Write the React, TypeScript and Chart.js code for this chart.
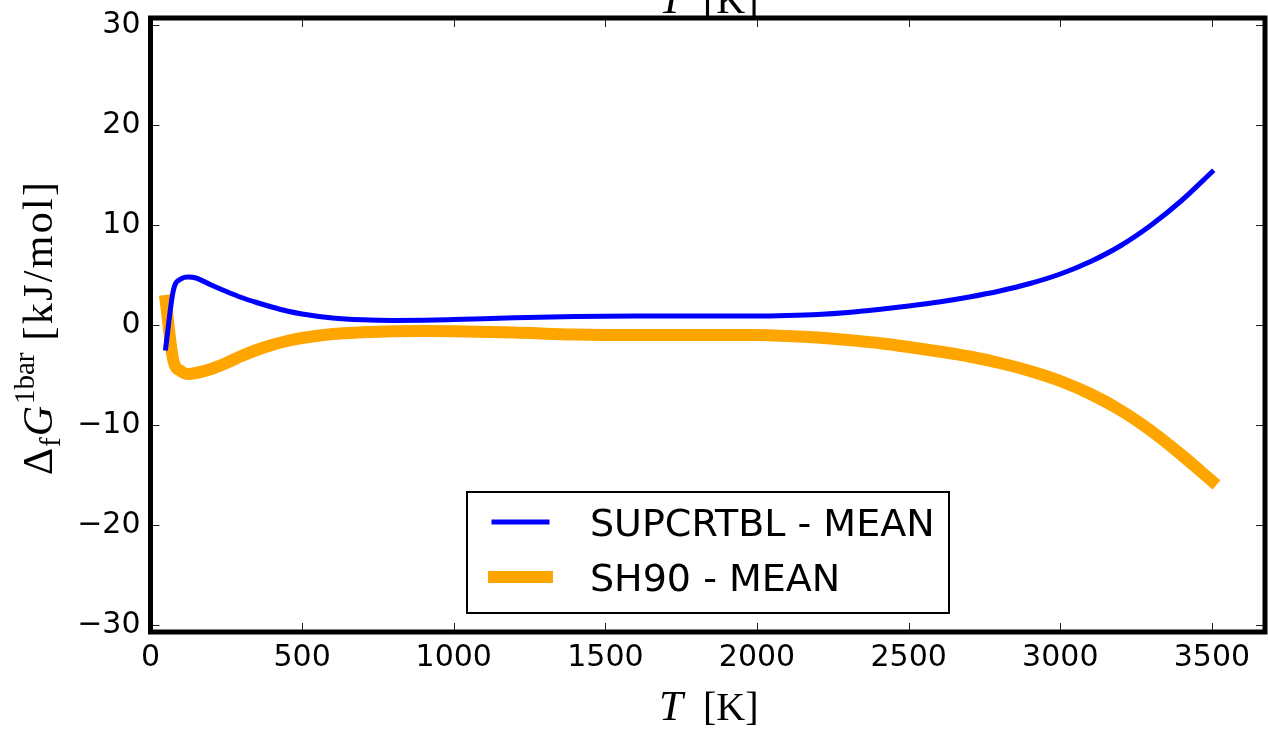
import React, { useEffect, useRef } from "react";
import { Chart, registerables } from "chart.js";

Chart.register(...registerables);

const temperatures = [50, 75, 100, 125, 150, 200, 250, 300, 350, 400, 450, 500, 600, 700, 800, 900, 1000, 1200, 1400, 1600, 1800, 2000, 2100, 2200, 2300, 2400, 2500, 2600, 2700, 2800, 2900, 3000, 3100, 3200, 3300, 3400, 3500];
const supcrtblMean = [-2.3, 3.4, 4.6, 4.8, 4.7, 4.0, 3.35, 2.75, 2.25, 1.8, 1.4, 1.1, 0.7, 0.52, 0.46, 0.48, 0.55, 0.72, 0.85, 0.9, 0.9, 0.9, 0.95, 1.05, 1.25, 1.55, 1.9, 2.3, 2.8, 3.4, 4.15, 5.1, 6.35, 7.95, 10.0, 12.45, 15.3];
const sh90Mean = [2.4, -3.5, -4.6, -4.9, -4.8, -4.4, -3.8, -3.1, -2.5, -2.0, -1.6, -1.3, -0.9, -0.72, -0.62, -0.6, -0.62, -0.75, -0.95, -1.0, -1.0, -1.0, -1.1, -1.25, -1.5, -1.8, -2.2, -2.65, -3.15, -3.8, -4.6, -5.6, -6.9, -8.55, -10.6, -13.0, -15.6];
const seriesLabels = ["SUPCRTBL - MEAN", "SH90 - MEAN"];
const seriesColors = ["#0000ff", "#ffa500"];
const seriesWidths = [5, 12];
const xTickValues = [0, 500, 1000, 1500, 2000, 2500, 3000, 3500];
const yTickValues = [-30, -20, -10, 0, 10, 20, 30];

const SANS = "'DejaVu Sans', sans-serif";
const SERIF = "'Liberation Serif', 'DejaVu Serif', serif";

const fmt = (v: number) => (v < 0 ? "\u2212" + Math.abs(v) : String(v));

const decorPlugin = {
  id: "decor",
  afterDraw(chart: any) {
    const ctx = chart.ctx as CanvasRenderingContext2D;
    const { left, right, top, bottom } = chart.chartArea;
    const xs = chart.scales.x;
    const ys = chart.scales.y;
    ctx.save();

    // inward ticks on all sides
    ctx.strokeStyle = "#222";
    ctx.lineWidth = 1;
    const tl = 9;
    xs.ticks.forEach((t: any) => {
      const px = Math.round(xs.getPixelForValue(t.value)) + 0.5;
      ctx.beginPath();
      ctx.moveTo(px, bottom);
      ctx.lineTo(px, bottom - tl);
      ctx.moveTo(px, top);
      ctx.lineTo(px, top + tl);
      ctx.stroke();
    });
    ys.ticks.forEach((t: any) => {
      const py = Math.round(ys.getPixelForValue(t.value)) + 0.5;
      ctx.beginPath();
      ctx.moveTo(left, py);
      ctx.lineTo(left + tl, py);
      ctx.moveTo(right, py);
      ctx.lineTo(right - tl, py);
      ctx.stroke();
    });

    // x-axis titles (bottom and the clipped one on top)
    const drawTK = (baseline: number) => {
      ctx.fillStyle = "#000";
      ctx.textBaseline = "alphabetic";
      ctx.textAlign = "left";
      ctx.font = `italic 43px ${SERIF}`;
      ctx.fillText("T", 659, baseline);
      ctx.font = `40px ${SERIF}`;
      ctx.fillText("[K]", 703, baseline);
    };
    drawTK(720);
    drawTK(13);

    // frame
    ctx.strokeStyle = "#000";
    ctx.lineWidth = 5;
    ctx.strokeRect(left, top, right - left, bottom - top);

    // y-axis title (rotated, with sub/superscripts)
    ctx.save();
    ctx.translate(52, 475);
    ctx.rotate(-Math.PI / 2);
    ctx.fillStyle = "#000";
    ctx.textAlign = "left";
    ctx.textBaseline = "alphabetic";
    let x = 0;
    ctx.font = `42px ${SERIF}`;
    ctx.fillText("\u0394", x, 0);
    x += ctx.measureText("\u0394").width;
    ctx.font = `29px ${SERIF}`;
    ctx.fillText("f", x + 1, 8);
    x += ctx.measureText("f").width + 2;
    ctx.font = `italic 42px ${SERIF}`;
    ctx.fillText("G", x, 0);
    x += ctx.measureText("G").width + 2;
    ctx.font = `29px ${SERIF}`;
    ctx.fillText("1bar", x, -18);
    x += ctx.measureText("1bar").width + 12;
    ctx.font = `42px ${SERIF}`;
    const unit = "[kJ/mol]";
    const uw = ctx.measureText(unit).width;
    const target = 475 - 182 - x;
    const spacing = (target - uw) / (unit.length - 1);
    for (const ch of unit) {
      ctx.fillText(ch, x, 0);
      x += ctx.measureText(ch).width + spacing;
    }
    ctx.restore();

    // legend
    const bx = 467, by = 492, bw = 482, bh = 121;
    ctx.fillStyle = "#fff";
    ctx.fillRect(bx, by, bw, bh);
    ctx.strokeStyle = "#000";
    ctx.lineWidth = 2;
    ctx.strokeRect(bx, by, bw, bh);
    const rowsY = [522, 577];
    const baselines = [536, 591];
    seriesLabels.forEach((lab, i) => {
      ctx.strokeStyle = seriesColors[i];
      ctx.lineWidth = seriesWidths[i];
      ctx.lineCap = "square";
      ctx.beginPath();
      ctx.moveTo(494, rowsY[i]);
      ctx.lineTo(547, rowsY[i]);
      ctx.stroke();
      ctx.fillStyle = "#000";
      ctx.font = `38px ${SANS}`;
      ctx.textAlign = "left";
      ctx.textBaseline = "alphabetic";
      ctx.fillText(lab, 590, baselines[i]);
    });

    ctx.restore();
  },
};

export default function App() {
  const ref = useRef<HTMLCanvasElement | null>(null);
  useEffect(() => {
    if (!ref.current) return;
    const mk = (vals: number[]) => temperatures.map((t, i) => ({ x: t, y: vals[i] }));
    const chart = new Chart(ref.current, {
      type: "line",
      data: {
        datasets: [
          {
            label: seriesLabels[0],
            data: mk(supcrtblMean),
            borderColor: seriesColors[0],
            borderWidth: seriesWidths[0],
            pointRadius: 0,
            cubicInterpolationMode: "monotone",
            borderCapStyle: "square",
            borderJoinStyle: "round",
            fill: false,
          },
          {
            label: seriesLabels[1],
            data: mk(sh90Mean),
            borderColor: seriesColors[1],
            borderWidth: seriesWidths[1],
            pointRadius: 0,
            cubicInterpolationMode: "monotone",
            borderCapStyle: "square",
            borderJoinStyle: "round",
            fill: false,
          },
        ],
      },
      options: {
        responsive: false,
        animation: false,
        devicePixelRatio: 1,
        layout: { padding: { left: 0, top: 18, right: 3, bottom: 0 } },
        plugins: { legend: { display: false }, tooltip: { enabled: false } },
        scales: {
          x: {
            type: "linear",
            min: 0,
            max: 3675,
            grid: { display: false, drawTicks: false },
            border: { display: false },
            afterBuildTicks: (s: any) => {
              s.ticks = xTickValues.map((v) => ({ value: v }));
            },
            ticks: {
              autoSkip: false,
              maxRotation: 0,
              padding: 8,
              color: "#000",
              font: { family: SANS, size: 30 },
              callback: (v: any) => fmt(Number(v)),
            },
            afterFit: (s: any) => {
              s.height = 100;
              s.paddingLeft = 0;
              s.paddingRight = 0;
            },
          },
          y: {
            type: "linear",
            min: -30.7,
            max: 30.7,
            grid: { display: false, drawTicks: false },
            border: { display: false },
            afterBuildTicks: (s: any) => {
              s.ticks = yTickValues.map((v) => ({ value: v }));
            },
            ticks: {
              autoSkip: false,
              padding: 10,
              color: "#000",
              font: { family: SANS, size: 30 },
              callback: (v: any) => fmt(Number(v)),
            },
            afterFit: (s: any) => {
              s.width = 150.5;
              s.paddingTop = 0;
              s.paddingBottom = 0;
            },
          },
        },
      },
      plugins: [decorPlugin],
    } as any);
    return () => chart.destroy();
  }, []);
  return (
    <div style={{ position: "fixed", left: 0, top: 0, width: 1268, height: 732, background: "#fff" }}>
      <canvas ref={ref} width={1268} height={732} style={{ display: "block", width: 1268, height: 732 }} />
    </div>
  );
}
